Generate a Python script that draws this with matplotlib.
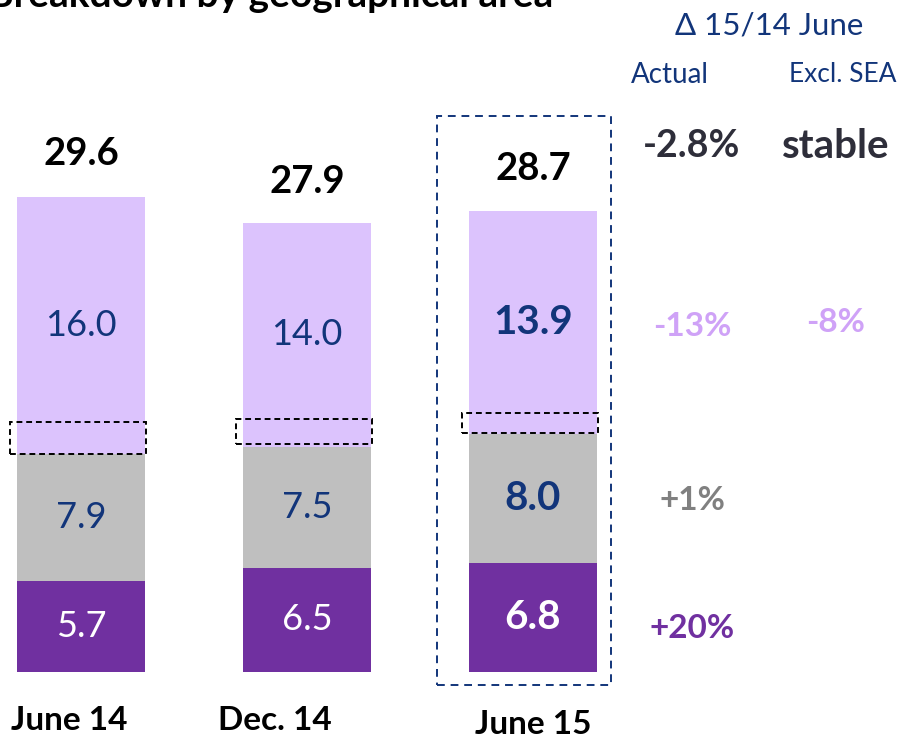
"""Stacked bar breakdown by geographical area with delta annotations."""

import matplotlib

matplotlib.use("Agg")
import matplotlib.pyplot as plt  # noqa: E402
from matplotlib.patches import Rectangle  # noqa: E402

plt.rcParams["font.family"] = ["Lato", "DejaVu Sans"]

categories = ["June 14", "Dec. 14", "June 15"]
purple_vals = [5.7, 6.5, 6.8]
grey_vals = [7.9, 7.5, 8.0]
lavender_vals = [16.0, 14.0, 13.9]
totals = [29.6, 27.9, 28.7]
sea_vals = [2.0, 1.55, 1.25]          # dashed SEA share inside lavender segment
sea_gap = [0.0, 0.2, 0.1]

delta_actual = ["-2.8%", "-13%", "+1%", "+20%"]
delta_excl = ["stable", "-8%"]

PURPLE = "#7030A0"
GREY = "#BFBFBF"
LAVENDER = "#DCC3FD"
NAVY = "#12357A"
DARK = "#2E2E3A"

W, H = 903, 739
fig = plt.figure(figsize=(W / 100, H / 100), dpi=100)
ax = fig.add_axes([0, 0, 1, 1])
# map: bar centres at 81/307/533 px, baseline at 672 px, 16.05 px per unit
ax.set_xlim(-81 / 226, (W - 81) / 226)
ax.set_ylim(-(H - 672) / 16.05, 672 / 16.05)
ax.axis("off")

x = list(range(len(categories)))
bw = 128 / 226
ax.bar(x, purple_vals, width=bw, color=PURPLE, zorder=2)
ax.bar(x, grey_vals, width=bw, bottom=purple_vals, color=GREY, zorder=2)
bottoms2 = [p + g for p, g in zip(purple_vals, grey_vals)]
ax.bar(x, lavender_vals, width=bw, bottom=bottoms2, color=LAVENDER, zorder=2)


def px(xp, yp):
    return xp / W, 1 - yp / H


for i in x:
    bold = i == 2
    weight = "bold" if bold else "normal"
    fs = 29 if bold else 26
    ax.text(i, purple_vals[i] / 2, f"{purple_vals[i]:.1f}", ha="center", va="center",
            color="white", fontsize=fs, fontweight=weight, zorder=4)
    ax.text(i, purple_vals[i] + grey_vals[i] / 2, f"{grey_vals[i]:.1f}", ha="center",
            va="center", color=NAVY, fontsize=fs, fontweight=weight, zorder=4)
    ax.text(i, bottoms2[i] + lavender_vals[i] / 2, f"{lavender_vals[i]:.1f}", ha="center",
            va="center", color=NAVY, fontsize=fs, fontweight=weight, zorder=4)
    ax.text(i, totals[i] + 2.65, f"{totals[i]:.1f}", ha="center", va="center",
            color="black", fontsize=27.5, fontweight="bold", zorder=4)
    # dashed SEA box
    ax.add_patch(Rectangle((i - bw / 2 - 0.03, bottoms2[i] + sea_gap[i]), bw + 0.035,
                           sea_vals[i], fill=False, edgecolor="black",
                           linestyle=(0, (3, 2)), linewidth=1.4, zorder=5))

# category labels
label_dx = [-0.05, -0.14, 0.0]
label_y = [-3.05, -3.05, -3.25]
for i, name in enumerate(categories):
    ax.text(i + label_dx[i], label_y[i], name, ha="center", va="center",
            fontsize=24, fontweight="bold", color="black")

# highlight box around latest bar
ax.add_patch(Rectangle((2 - 96 / 226, -13 / 16.05), 174 / 226, 569 / 16.05, fill=False,
                       edgecolor=NAVY, linestyle=(0, (4, 3)), linewidth=1.4, zorder=1))

# cut-off title at the top edge
fig.text(*px(-12, 7), "Breakdown by geographical area", ha="left", va="baseline",
         fontsize=28, fontweight="bold", color="black")

# delta columns
fig.text(*px(769, 25), "\u0394 15/14 June", ha="center", va="center", fontsize=22.5,
         color=NAVY)
fig.text(*px(670, 75), "Actual", ha="center", va="center", fontsize=20, color=NAVY)
fig.text(*px(843, 75), "Excl. SEA", ha="center", va="center", fontsize=19, color=NAVY)

actual_y = [146, 327, 501, 629]
actual_c = [DARK, "#CFA2F7", "#808080", PURPLE]
actual_fs = [27, 24, 24, 24]
for txt, yp, c, fs in zip(delta_actual, actual_y, actual_c, actual_fs):
    fig.text(*px(692, yp), txt, ha="center", va="center", fontsize=fs,
             fontweight="bold", color=c)
excl_y = [146, 322]
excl_c = [DARK, "#CFA2F7"]
excl_fs = [29, 24]
for txt, yp, c, fs in zip(delta_excl, excl_y, excl_c, excl_fs):
    fig.text(*px(836, yp), txt, ha="center", va="center", fontsize=fs,
             fontweight="bold", color=c)

fig.savefig("out.png", dpi=100)
